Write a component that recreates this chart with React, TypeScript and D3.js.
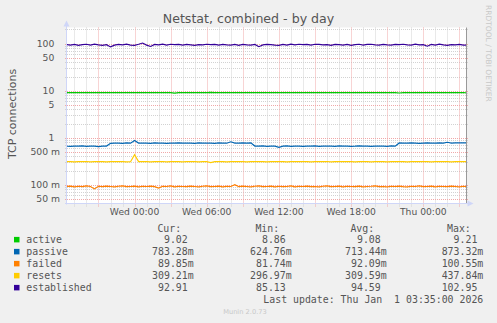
import React from 'react';
import * as d3 from 'd3';

const W = 497;
const H = 323;

// sample times: every 20 minutes from Tue 18:20
const SAMPLE_START = new Date(2025, 11, 30, 18, 20);
const SAMPLE_STEP_MIN = 20;

const activeValues = [
  9.10, 9.08, 9.12, 9.09, 9.10, 9.08, 9.11, 9.09, 9.10, 9.08,
  9.09, 9.10, 9.08, 9.11, 9.09, 9.10, 9.12, 9.09, 9.08, 9.10,
  9.09, 9.11, 9.08, 9.10, 9.09, 9.08, 9.10, 8.86, 9.09, 9.10,
  9.08, 9.11, 9.09, 9.10, 9.08, 9.09, 9.21, 9.10, 9.08, 9.09,
  9.10, 9.08, 9.11, 9.09, 9.10, 9.08, 9.09, 9.10, 9.08, 9.11,
  9.09, 9.10, 9.08, 9.09, 9.11, 9.10, 9.08, 9.09, 9.10, 9.08,
  9.09, 9.10, 9.11, 9.08, 9.09, 9.10, 9.08, 9.09, 9.11, 9.10,
  9.08, 9.09, 9.10, 9.08, 9.11, 9.09, 9.10, 9.08, 9.09, 9.10,
  9.08, 9.09, 9.10, 8.92, 9.09, 9.08, 9.10, 9.09, 9.11, 9.08,
  9.10, 9.09, 9.08, 9.10, 9.09, 9.11, 9.08, 9.09, 9.10, 9.08,
  9.02,
];

const passiveValues = [
  0.660, 0.655, 0.665, 0.660, 0.670, 0.655, 0.660, 0.665, 0.650, 0.660,
  0.665, 0.760, 0.765, 0.770, 0.760, 0.775, 0.765, 0.873, 0.770, 0.765,
  0.770, 0.760, 0.775, 0.765, 0.770, 0.760, 0.770, 0.765, 0.775, 0.770,
  0.765, 0.770, 0.760, 0.775, 0.770, 0.765, 0.770, 0.760, 0.775, 0.770,
  0.765, 0.820, 0.770, 0.765, 0.775, 0.770, 0.780, 0.665, 0.660, 0.670,
  0.655, 0.660, 0.665, 0.625, 0.660, 0.670, 0.655, 0.665, 0.660, 0.655,
  0.665, 0.660, 0.670, 0.655, 0.660, 0.665, 0.660, 0.655, 0.670, 0.660,
  0.665, 0.655, 0.660, 0.670, 0.660, 0.665, 0.655, 0.660, 0.665, 0.660,
  0.655, 0.670, 0.660, 0.775, 0.770, 0.765, 0.775, 0.770, 0.760, 0.770,
  0.775, 0.765, 0.770, 0.775, 0.770, 0.800, 0.770, 0.775, 0.780, 0.775,
  0.7833,
];

const failedValues = [
  0.092, 0.094, 0.090, 0.093, 0.091, 0.095, 0.092, 0.0817, 0.093, 0.091,
  0.094, 0.092, 0.090, 0.093, 0.095, 0.091, 0.092, 0.094, 0.090, 0.093,
  0.092, 0.094, 0.091, 0.085, 0.093, 0.092, 0.095, 0.090, 0.093, 0.092,
  0.091, 0.094, 0.092, 0.090, 0.093, 0.095, 0.091, 0.092, 0.094, 0.090,
  0.093, 0.092, 0.1005, 0.091, 0.094, 0.092, 0.090, 0.093, 0.095, 0.091,
  0.092, 0.094, 0.090, 0.093, 0.091, 0.092, 0.095, 0.090, 0.093, 0.092,
  0.094, 0.091, 0.092, 0.090, 0.093, 0.095, 0.091, 0.092, 0.094, 0.090,
  0.093, 0.092, 0.091, 0.094, 0.090, 0.092, 0.093, 0.095, 0.091, 0.092,
  0.090, 0.093, 0.092, 0.094, 0.091, 0.090, 0.093, 0.092, 0.095, 0.091,
  0.092, 0.094, 0.090, 0.093, 0.092, 0.091, 0.094, 0.092, 0.090, 0.093,
  0.08985,
];

const resetsValues = [
  0.309, 0.311, 0.308, 0.310, 0.309, 0.312, 0.308, 0.310, 0.309, 0.311,
  0.308, 0.310, 0.309, 0.311, 0.310, 0.308, 0.309, 0.4378, 0.310, 0.309,
  0.311, 0.308, 0.310, 0.309, 0.312, 0.308, 0.310, 0.309, 0.311, 0.308,
  0.310, 0.309, 0.311, 0.308, 0.310, 0.309, 0.297, 0.310, 0.309, 0.311,
  0.308, 0.310, 0.309, 0.311, 0.310, 0.308, 0.309, 0.311, 0.310, 0.309,
  0.308, 0.310, 0.311, 0.309, 0.310, 0.308, 0.309, 0.311, 0.310, 0.309,
  0.311, 0.308, 0.310, 0.309, 0.310, 0.312, 0.308, 0.310, 0.309, 0.311,
  0.309, 0.310, 0.308, 0.311, 0.309, 0.310, 0.308, 0.309, 0.311, 0.310,
  0.308, 0.310, 0.309, 0.311, 0.310, 0.308, 0.309, 0.310, 0.311, 0.309,
  0.310, 0.308, 0.311, 0.309, 0.310, 0.309, 0.308, 0.311, 0.310, 0.309,
  0.3092,
];

const establishedValues = [
  95, 93, 96, 92, 95, 97, 93, 97, 94, 92,
  95, 85.1, 93, 96, 94, 97, 93, 92, 97, 102.9,
  93, 87, 96, 94, 97, 93, 97, 95, 96, 93,
  96, 94, 92, 95, 94, 97, 95, 96, 93, 96,
  94, 93, 96, 92, 96, 94, 93, 96, 86, 94,
  96, 95, 93, 92, 96, 93, 97, 94, 97, 95,
  96, 93, 97, 96, 94, 95, 92, 96, 95, 93,
  96, 92, 95, 97, 93, 96, 97, 94, 93, 96,
  94, 93, 96, 95, 97, 94, 93, 97, 94, 95,
  88, 96, 93, 97, 94, 92, 95, 94, 96, 93,
  92.91,
];

const seriesNames = ['active', 'passive', 'failed', 'resets', 'established'];
const seriesColors = ['#00CC00', '#0066B3', '#FF8000', '#FFCC00', '#330099'];
const seriesData = [activeValues, passiveValues, failedValues, resetsValues, establishedValues];

const curLabels = ['9.02', '783.28m', '89.85m', '309.21m', '92.91'];
const minLabels = ['8.86', '624.76m', '81.74m', '296.97m', '85.13'];
const avgLabels = ['9.08', '713.44m', '92.09m', '309.59m', '94.59'];
const maxLabels = ['9.21', '873.32m', '100.55m', '437.84m', '102.95'];
const columnHeaders = ['Cur:', 'Min:', 'Avg:', 'Max:'];

const yMajorTicks = [100, 50, 10, 5, 1, 0.5, 0.1, 0.05];
const yTickLabels = ['100', '50', '10', '5', '1', '500 m', '100 m', '50 m'];

const TITLE = 'Netstat, combined - by day';
const Y_TITLE = 'TCP connections';
const LAST_UPDATE = 'Last update: Thu Jan  1 03:35:00 2026';
const WATERMARK = 'RRDTOOL / TOBI OETIKER';
const VERSION = 'Munin 2.0.73';

const PLOT_L = 67;
const PLOT_R = 467;
const PLOT_T = 27.5;
const PLOT_B = 203.5;

const timeStart = new Date(2025, 11, 30, 18, 23);
const timeEnd = new Date(2026, 0, 1, 3, 38);

export default function App() {
  const x = d3.scaleTime().domain([timeStart, timeEnd]).range([PLOT_L, PLOT_R]);
  const y = d3.scaleLog().domain([0.04, 220]).range([PLOT_B, PLOT_T]);
  const sampleTime = (i: number) => new Date(SAMPLE_START.getTime() + i * SAMPLE_STEP_MIN * 60000);

  const line = d3
    .line<number>()
    .x((_d, i) => x(sampleTime(i)))
    .y((d) => y(d));

  const hours = d3.timeHour.range(timeStart, timeEnd);
  const minorH: number[] = [];
  for (let n = -2; n <= 2; n++) {
    for (let k = 2; k <= 9; k++) {
      if (k === 5) continue;
      const v = k * Math.pow(10, n);
      const py = y(v);
      if (py > PLOT_T - 0.5 && py < PLOT_B - 1) minorH.push(v);
    }
  }
  const fmt = d3.timeFormat('%a %H:%M');
  const crisp = (v: number) => Math.round(v) + 0.5;

  const font = "'DejaVu Sans', sans-serif";
  const mono = "'DejaVu Sans Mono', monospace";
  const textColor = '#555';
  const minorColor = '#d2d2d2';
  const majorColor = '#f0a8a8';
  const colEdges = [193.7, 291.7, 386.7, 483.3];
  const colValues = [curLabels, minLabels, avgLabels, maxLabels];
  const rowY = [239.7, 251.7, 263.7, 275.7, 287.7];
  const charW = 5.96;

  return (
    <svg
      width={W}
      height={H}
      style={{ position: 'absolute', left: 0, top: 0, display: 'block' }}
    >
      <rect x={0} y={0} width={W} height={H} fill="#F0F0F0" />
      <rect x={PLOT_L} y={PLOT_T} width={PLOT_R - PLOT_L} height={PLOT_B - PLOT_T} fill="#FFFFFF" />

      {/* minor horizontal grid */}
      {minorH.map((v) => (
        <line key={'mh' + v} x1={PLOT_L - 2} x2={PLOT_R + 2} y1={crisp(y(v))} y2={crisp(y(v))}
          stroke={minorColor} strokeDasharray="1,1" strokeWidth={1} />
      ))}
      {/* minor vertical grid */}
      {hours.filter((h) => h.getHours() % 3 !== 0).map((h) => (
        <line key={'mv' + h.getTime()} x1={crisp(x(h))} x2={crisp(x(h))} y1={PLOT_T} y2={PLOT_B + 3}
          stroke={minorColor} strokeDasharray="1,1" strokeWidth={1} />
      ))}
      {/* major vertical grid */}
      {hours.filter((h) => h.getHours() % 3 === 0).map((h) => (
        <line key={'Mv' + h.getTime()} x1={crisp(x(h))} x2={crisp(x(h))} y1={PLOT_T} y2={PLOT_B + 3}
          stroke={majorColor} strokeDasharray="1,1" strokeWidth={1} />
      ))}
      {/* major horizontal grid */}
      {yMajorTicks.map((v) => (
        <line key={'Mh' + v} x1={PLOT_L - 2} x2={PLOT_R + 2} y1={crisp(y(v))} y2={crisp(y(v))}
          stroke={majorColor} strokeDasharray="1,1" strokeWidth={1} />
      ))}

      {/* right edge line */}
      <line x1={466.5} x2={466.5} y1={PLOT_T} y2={PLOT_B} stroke="#999" strokeWidth={1} />

      {/* axes */}
      <line x1={66.5} x2={66.5} y1={PLOT_T - 2} y2={PLOT_B + 1} stroke="#CFD6F8" strokeWidth={1} />
      <line x1={PLOT_L - 2} x2={PLOT_R + 2} y1={203.5} y2={203.5} stroke="#CFD6F8" strokeWidth={1} />
      <path d="M66.5,20.5 L63.5,26.5 L69.5,26.5 Z" fill="#CFD6F8" />
      <path d="M473.5,203.5 L467.5,200.5 L467.5,206.5 Z" fill="#CFD6F8" />

      {/* data lines */}
      <defs>
        <clipPath id="plotclip">
          <rect x={PLOT_L} y={PLOT_T} width={PLOT_R - PLOT_L - 1} height={PLOT_B - PLOT_T} />
        </clipPath>
      </defs>
      <g clipPath="url(#plotclip)">
        {seriesData.map((vals, si) => (
          <path key={seriesNames[si]} d={line(vals) || ''} fill="none" stroke={seriesColors[si]} strokeWidth={1.2} />
        ))}
      </g>

      {/* y tick labels */}
      {yMajorTicks.map((v, i) => (
        <text key={'yl' + v} x={yTickLabels[i].includes('m') ? 60 : 54.3} y={y(v) + 3.4}
          textAnchor="end" fontFamily={font} fontSize={9.25} fill={textColor}>
          {yTickLabels[i]}
        </text>
      ))}
      {/* x tick labels */}
      {hours.filter((h) => h.getHours() % 6 === 0).map((h) => (
        <text key={'xl' + h.getTime()} x={x(h)} y={215} textAnchor="middle" fontFamily={font}
          fontSize={9.2} fill={textColor}>
          {fmt(h)}
        </text>
      ))}

      {/* titles */}
      <text x={248.5} y={23} textAnchor="middle" fontFamily={font} fontSize={12.6} fill={textColor}>
        {TITLE}
      </text>
      <text transform="translate(15.5,114) rotate(-90)" textAnchor="middle" fontFamily={font}
        fontSize={11} fill={textColor}>
        {Y_TITLE}
      </text>
      <text transform="translate(485.5,5) rotate(90)" textAnchor="start" fontFamily={font}
        fontSize={7.5} fill="#c8c8c8">
        {WATERMARK}
      </text>

      {/* legend */}
      {columnHeaders.map((hd, ci) => (
        <text key={'hd' + hd} x={colEdges[ci] - 12.5} y={232} textAnchor="end" fontFamily={mono}
          fontSize={9.9} fill={textColor}>
          {hd}
        </text>
      ))}
      {seriesNames.map((name, si) => (
        <g key={'lg' + name}>
          <rect x={14} y={rowY[si] - 2.8} width={5.5} height={5.5} fill={seriesColors[si]} />
          <text x={26.3} y={rowY[si] + 3.3} fontFamily={mono} fontSize={9.9} fill={textColor}>
            {name}
          </text>
          {colValues.map((col, ci) => (
            <text key={'v' + ci} x={col[si].endsWith('m') ? colEdges[ci] : colEdges[ci] - charW}
              y={rowY[si] + 3.3} textAnchor="end" fontFamily={mono} fontSize={9.9} fill={textColor}>
              {col[si]}
            </text>
          ))}
        </g>
      ))}
      <text x={483.3} y={302.5} textAnchor="end" fontFamily={mono} fontSize={9.9} fill={textColor}
        style={{ whiteSpace: 'pre' }}>
        {LAST_UPDATE}
      </text>
      <text x={245} y={314} textAnchor="middle" fontFamily={font} fontSize={6.7} fill="#c8c8c8">
        {VERSION}
      </text>
    </svg>
  );
}
